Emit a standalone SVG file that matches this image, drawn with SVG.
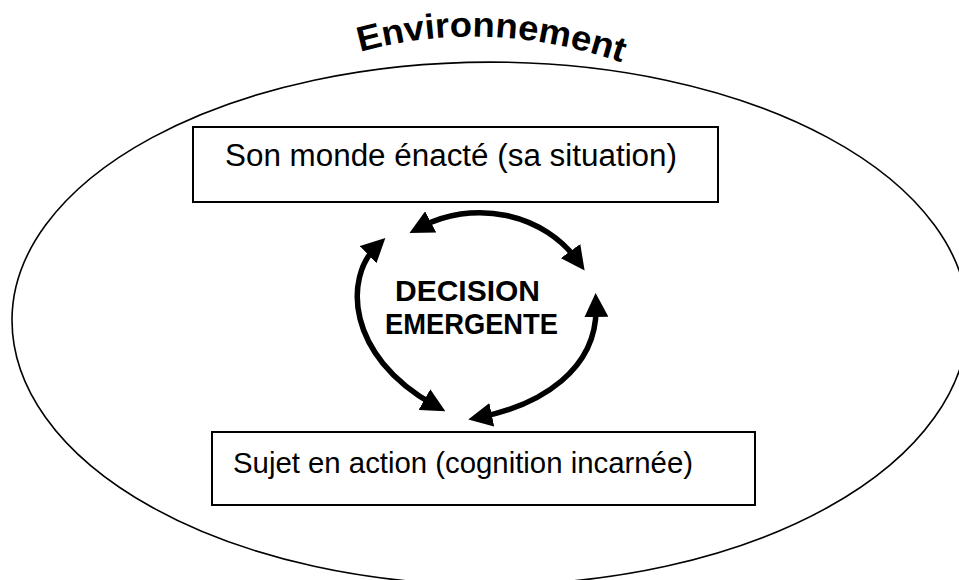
<svg xmlns="http://www.w3.org/2000/svg" width="959" height="580" viewBox="0 0 959 580">
  <style>
    .frame { fill: none; stroke: #000; stroke-width: 1.6; }
    .box { fill: #fff; stroke: #000; stroke-width: 2; }
    .label { font-family: "Liberation Sans", Arial, sans-serif; fill: #000; }
    .bold { font-weight: bold; }
    .loop { fill: none; stroke: #000; stroke-width: 5.5; }
  </style>
  <defs>
    <marker id="head" markerUnits="userSpaceOnUse" viewBox="0 0 24 24" refX="11" refY="12" markerWidth="24" markerHeight="24" orient="auto-start-reverse">
      <path d="M0,0 L24,12 L0,24 Z" fill="#000"/>
    </marker>
    <path id="arch" d="M 360 52 Q 490 16 626 64"/>
  </defs>
  <rect width="959" height="580" fill="#fff"/>

  <!-- environment boundary -->
  <g id="environnement">
    <path class="frame" d="M 12 320 A 478 258 0 0 1 968 320 A 478 265 0 0 1 12 320 Z"/>
    <text class="label bold" font-size="35">
      <textPath href="#arch" textLength="266" lengthAdjust="spacingAndGlyphs">Environnement</textPath>
    </text>
  </g>

  <!-- enacted world -->
  <g id="monde">
    <rect class="box" x="193" y="127" width="525" height="75"/>
    <text class="label" x="225" y="166" font-size="31" textLength="452" lengthAdjust="spacingAndGlyphs">Son monde énacté (sa situation)</text>
  </g>

  <!-- acting subject -->
  <g id="sujet">
    <rect class="box" x="212" y="432" width="543" height="73"/>
    <text class="label" x="233" y="473" font-size="30" textLength="460" lengthAdjust="spacingAndGlyphs">Sujet en action (cognition incarnée)</text>
  </g>

  <!-- centre label -->
  <g id="decision">
    <text class="label bold" x="395" y="301" font-size="30" textLength="145" lengthAdjust="spacingAndGlyphs">DECISION</text>
    <text class="label bold" x="385" y="334" font-size="30" textLength="173" lengthAdjust="spacingAndGlyphs">EMERGENTE</text>
  </g>

  <!-- circular double-headed arrows -->
  <g id="connecteurs">
    <path class="loop" d="M 421 227 A 116 104 0 0 1 577 260" marker-start="url(#head)" marker-end="url(#head)"/>
    <path class="loop" d="M 376 247 C 345 277, 345 355, 434 405" marker-start="url(#head)" marker-end="url(#head)"/>
    <path class="loop" d="M 596 306 C 598 370, 540 405, 481 417" marker-start="url(#head)" marker-end="url(#head)"/>
  </g>
</svg>
